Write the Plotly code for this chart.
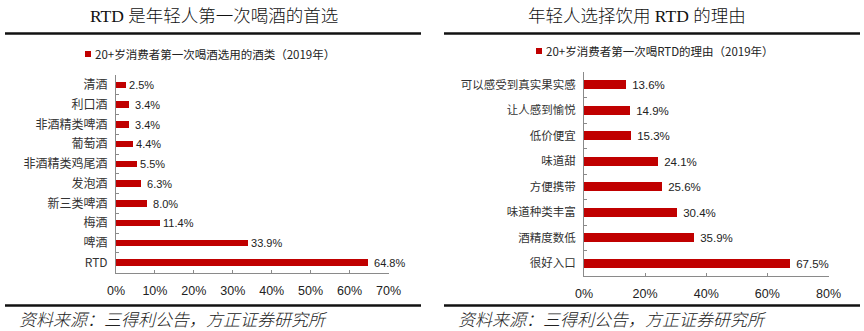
import plotly.graph_objects as go

# Left chart: first drink choice of consumers aged 20+ (2019)
drink_types = ["清酒", "利口酒", "非酒精类啤酒", "葡萄酒", "非酒精类鸡尾酒",
               "发泡酒", "新三类啤酒", "梅酒", "啤酒", "RTD"]
drink_share = [2.5, 3.4, 3.4, 4.4, 5.5, 6.3, 8.0, 11.4, 33.9, 64.8]
left_ticks = [0, 10, 20, 30, 40, 50, 60, 70]

# Right chart: reasons for choosing RTD (2019)
reasons = ["可以感受到真实果实感", "让人感到愉悦", "低价便宜", "味道甜",
           "方便携带", "味道种类丰富", "酒精度数低", "很好入口"]
reason_share = [13.6, 14.9, 15.3, 24.1, 25.6, 30.4, 35.9, 67.5]
right_ticks = [0, 20, 40, 60, 80]

W, H = 864, 331
RED = "#C00000"
AXIS = "#8a8a8a"
CJK = "Noto Sans CJK SC, sans-serif"
LAT = "Liberation Sans, Arial, sans-serif"
SERIF = "Liberation Serif, Noto Sans CJK SC, serif"
NBSP = "\u00a0"


def px_x(v):
    return v / W


def px_y(v):
    return 1 - v / H


fig = go.Figure()

fig.add_trace(go.Bar(
    x=drink_share, y=drink_types, orientation="h",
    marker=dict(color=RED, line=dict(width=0)), width=0.34,
    text=[f"{NBSP}{v:.1f}%" for v in drink_share], textposition="outside",
    constraintext="none",
    textfont=dict(family=LAT, size=11, color="#222"), cliponaxis=False,
    xaxis="x", yaxis="y", showlegend=False, hoverinfo="skip",
))
fig.add_trace(go.Bar(
    x=reason_share, y=reasons, orientation="h",
    marker=dict(color=RED, line=dict(width=0)), width=0.36,
    text=[f"{NBSP}{v:.1f}%" for v in reason_share], textposition="outside",
    constraintext="none",
    textfont=dict(family=LAT, size=11.5, color="#222"), cliponaxis=False,
    xaxis="x2", yaxis="y2", showlegend=False, hoverinfo="skip",
))

xcommon = dict(showgrid=False, zeroline=False, showline=True, linecolor=AXIS,
               linewidth=1, ticks="inside", ticklen=3, tickcolor=AXIS,
               tickmode="array", automargin=False, ticklabelstandoff=6,
               tickfont=dict(family=LAT, size=12.5, color="#222"))
ycommon = dict(showgrid=False, zeroline=False, showline=True, linecolor=AXIS,
               linewidth=1, ticks="inside", ticklen=3, tickcolor=AXIS,
               tickson="boundaries", autorange="reversed", ticklabelstandoff=5,
               automargin=False)

fig.update_layout(
    width=W, height=H, margin=dict(l=0, r=0, t=0, b=0, autoexpand=False),
    paper_bgcolor="white", plot_bgcolor="white", bargap=0,
    xaxis=dict(domain=[px_x(116), px_x(388.5)], range=[0, 70],
               tickvals=left_ticks, ticktext=[f"{t}%" for t in left_ticks],
               anchor="y", **xcommon),
    yaxis=dict(domain=[px_y(272.5), px_y(75)], anchor="x",
               tickfont=dict(family=CJK, size=12, color="#333"), **ycommon),
    xaxis2=dict(domain=[px_x(584), px_x(828.5)], range=[0, 80],
                tickvals=right_ticks, ticktext=[f"{t}%" for t in right_ticks],
                anchor="y2", **xcommon),
    yaxis2=dict(domain=[px_y(276), px_y(72)], anchor="x2",
                tickfont=dict(family=CJK, size=11.5, color="#333"), **ycommon),
)

shapes = []
annotations = []
for (x0, x1, cx, title, legend_text, lx, ly) in [
    (5, 421, 214, "RTD 是年轻人第一次喝酒的首选",
     "20+岁消费者第一次喝酒选用的酒类（2019年）", 85, 54),
    (444, 860, 637, "年轻人选择饮用 RTD 的理由",
     "20+岁消费者第一次喝RTD的理由（2019年）", 536, 51),
]:
    # header and footer rules
    shapes.append(dict(type="line", xref="paper", yref="paper",
                       x0=px_x(x0), x1=px_x(x1), y0=px_y(33.5), y1=px_y(33.5),
                       line=dict(color="#111", width=2.5)))
    shapes.append(dict(type="line", xref="paper", yref="paper",
                       x0=px_x(x0), x1=px_x(x1), y0=px_y(305.5), y1=px_y(305.5),
                       line=dict(color="#111", width=2.5)))
    # legend swatch
    shapes.append(dict(type="rect", xref="paper", yref="paper",
                       x0=px_x(lx), x1=px_x(lx + 6), y0=px_y(ly + 3), y1=px_y(ly - 3),
                       fillcolor=RED, line=dict(width=0)))
    annotations.append(dict(text=title, xref="paper", yref="paper",
                            x=px_x(cx), y=px_y(15.5), xanchor="center", yanchor="middle",
                            showarrow=False,
                            font=dict(family=SERIF, size=17.5, color="#111", weight=300)))
    annotations.append(dict(text=legend_text, xref="paper", yref="paper",
                            x=px_x(lx + 8), y=px_y(ly), xanchor="left", yanchor="middle",
                            showarrow=False,
                            font=dict(family=CJK, size=11.5, color="#222")))
    annotations.append(dict(text="资料来源：三得利公告，方正证券研究所", xref="paper", yref="paper",
                            x=px_x(x0 + 12), y=px_y(318.5), xanchor="left", yanchor="middle",
                            showarrow=False,
                            font=dict(family=CJK, size=17, color="#222", style="italic",
                                      weight=300)))

fig.update_layout(shapes=shapes, annotations=annotations)

fig.write_html("out.html")
